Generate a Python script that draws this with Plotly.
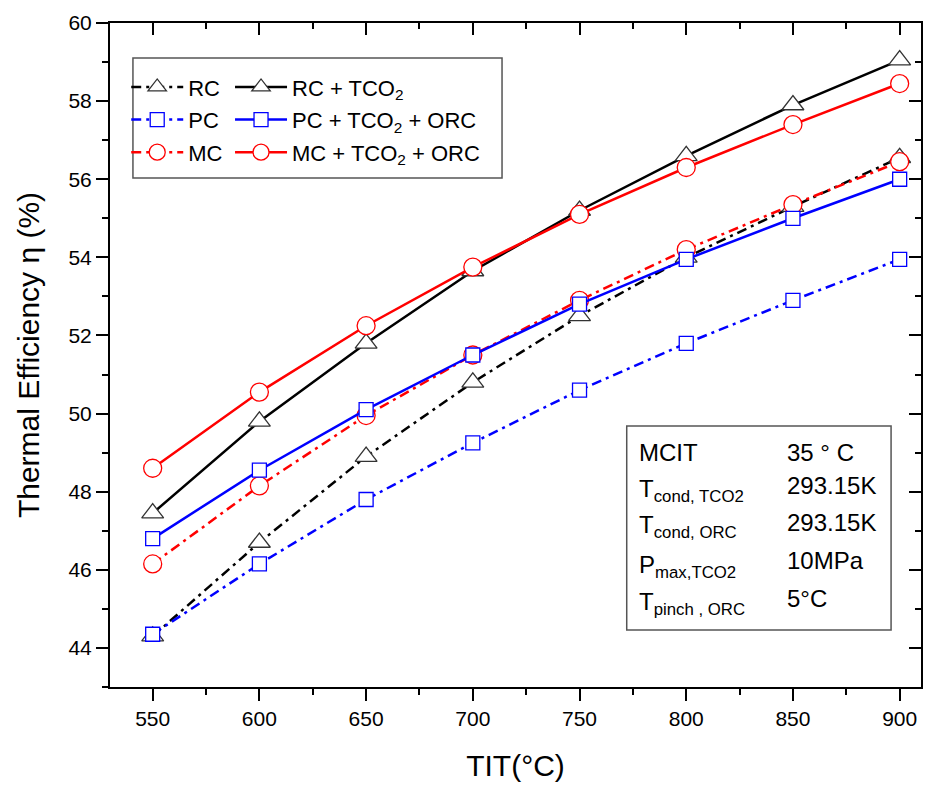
import plotly.graph_objects as go

tit = [550, 600, 650, 700, 750, 800, 850, 900]
rc = [44.3, 46.7, 48.9, 50.8, 52.5, 54.0, 55.3, 56.55]
pc = [44.35, 46.15, 47.8, 49.25, 50.6, 51.8, 52.9, 53.95]
mc = [46.15, 48.15, 49.95, 51.5, 52.9, 54.2, 55.35, 56.45]
rc_tco2 = [47.45, 49.8, 51.8, 53.65, 55.2, 56.6, 57.9, 59.05]
pc_tco2_orc = [46.8, 48.55, 50.1, 51.5, 52.8, 53.95, 55.0, 56.0]
mc_tco2_orc = [48.6, 50.55, 52.25, 53.75, 55.1, 56.3, 57.4, 58.45]

info_labels = ["MCIT", "T<sub>cond, TCO2</sub>", "T<sub>cond, ORC</sub>",
               "P<sub>max,TCO2</sub>", "T<sub>pinch , ORC</sub>"]
info_values = ["35 ° C", "293.15K", "293.15K", "10MPa", "5°C"]

DASHDOT = "10px,5px,3px,5px"
series = [
    ("RC", rc, "black", "#333333", "triangle-up", 19, DASHDOT, "legend"),
    ("PC", pc, "blue", "blue", "square", 14, DASHDOT, "legend"),
    ("MC", mc, "red", "red", "circle", 18, DASHDOT, "legend"),
    ("RC + TCO<sub>2</sub>", rc_tco2, "black", "#333333", "triangle-up", 19, "solid", "legend2"),
    ("PC + TCO<sub>2</sub> + ORC", pc_tco2_orc, "blue", "blue", "square", 14, "solid", "legend2"),
    ("MC + TCO<sub>2</sub> + ORC", mc_tco2_orc, "red", "red", "circle", 18, "solid", "legend2"),
]

fig = go.Figure()
for i, (name, vals, lc, mcol, sym, size, dash, leg) in enumerate(series):
    fig.add_trace(go.Scatter(
        x=tit, y=vals, name=name, mode="lines+markers",
        line=dict(color=lc, width=2.5, dash=dash),
        marker=dict(symbol=sym, size=size, color="white",
                    line=dict(color=mcol, width=1.3)),
        legend=leg, legendgroup="g%d" % i,
    ))

font = "Liberation Sans, Arial, sans-serif"
axis_common = dict(showline=True, linewidth=2, linecolor="black", mirror=True,
                   ticks="outside", ticklen=12, tickwidth=2, tickcolor="black",
                   showgrid=False, zeroline=False,
                   tickfont=dict(size=21, family=font, color="black"))

yt = [44, 46, 48, 50, 52, 54, 56, 58, 60]
fig.update_layout(
    width=926, height=785,
    margin=dict(l=110, r=3, t=23, b=98),
    paper_bgcolor="white", plot_bgcolor="white",
    font=dict(family=font, color="black"),
    xaxis=dict(range=[530, 910], tickvals=tit, **axis_common,
               minor=dict(ticks="outside", ticklen=6, tickwidth=2, dtick=25, tick0=525, tickcolor="black"),
               title=dict(text="TIT(°C)", font=dict(size=30, family=font), standoff=26)),
    yaxis=dict(range=[43, 60], tickvals=yt, **axis_common,
               minor=dict(ticks="outside", ticklen=6, tickwidth=2, dtick=1, tick0=43, tickcolor="black"),
               title=dict(text="Thermal Efficiency η (%)", font=dict(size=30, family=font), standoff=20)),
    xaxis2=dict(range=[530, 910], overlaying="x", side="top", tickvals=tit,
                ticks="inside", ticklen=12, tickwidth=2, tickcolor="black",
                showticklabels=False, showgrid=False, zeroline=False, showline=False,
                minor=dict(ticks="inside", ticklen=6, tickwidth=2, dtick=25, tick0=525, tickcolor="black")),
    yaxis2=dict(range=[43, 60], overlaying="y", side="right", tickvals=yt,
                ticks="inside", ticklen=12, tickwidth=2, tickcolor="black",
                showticklabels=False, showgrid=False, zeroline=False, showline=False,
                minor=dict(ticks="inside", ticklen=6, tickwidth=2, dtick=1, tick0=43, tickcolor="black")),
    legend=dict(x=0.02, y=0.935, xanchor="left", yanchor="top", bgcolor="rgba(0,0,0,0)",
                font=dict(size=22, family=font), tracegroupgap=1, itemwidth=52),
    legend2=dict(x=0.148, y=0.935, xanchor="left", yanchor="top", bgcolor="rgba(0,0,0,0)",
                 font=dict(size=22, family=font), tracegroupgap=1, itemwidth=52),
    showlegend=True,
)

# invisible trace to activate the secondary (mirror tick) axes
fig.add_trace(go.Scatter(x=[None], y=[None], xaxis="x2", yaxis="y2", showlegend=False, hoverinfo="skip"))

def px_x(px):
    return (px - 110) / 813.0

def px_y(py):
    return 1 - (py - 23) / 664.0

# legend frame
fig.add_shape(type="rect", xref="paper", yref="paper",
              x0=px_x(133), x1=px_x(503), y0=px_y(178), y1=px_y(58),
              line=dict(color="#555555", width=1.5))
# info frame
fig.add_shape(type="rect", xref="paper", yref="paper",
              x0=px_x(628), x1=px_x(893), y0=px_y(630), y1=px_y(426),
              line=dict(color="#555555", width=1.5))

label_y = [452, 490, 526, 566, 603]
value_y = [452, 485, 522, 560, 598]
for lab, val, ly, vy in zip(info_labels, info_values, label_y, value_y):
    fig.add_annotation(x=px_x(638), y=px_y(ly), xref="paper", yref="paper",
                       text=lab, showarrow=False, xanchor="left", yanchor="middle",
                       font=dict(size=24, family=font, color="black"))
    fig.add_annotation(x=px_x(787), y=px_y(vy), xref="paper", yref="paper",
                       text=val, showarrow=False, xanchor="left", yanchor="middle",
                       font=dict(size=24, family=font, color="black"))

fig.write_html("out.html")
